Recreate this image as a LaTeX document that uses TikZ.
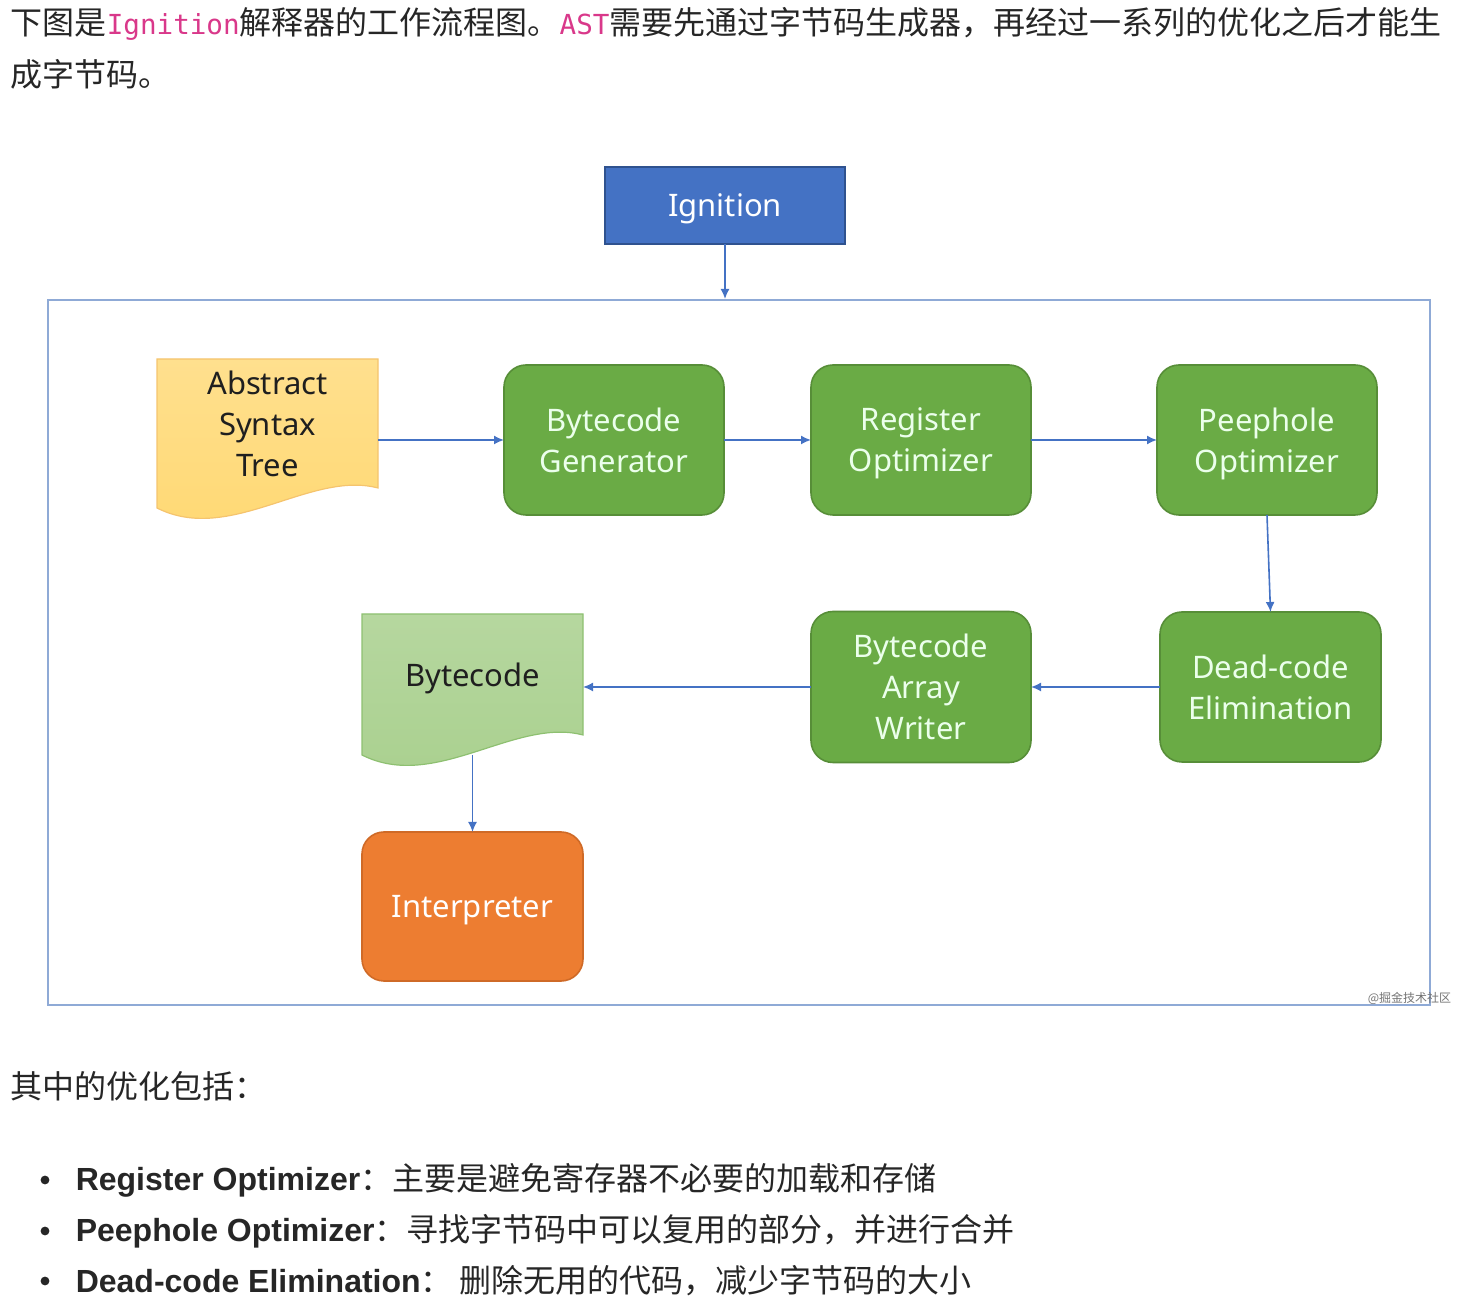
\documentclass[tikz,border=0pt]{standalone}
\usepackage{fontspec}
\setmainfont{Noto Sans}
\newfontfamily\cjk{Noto Sans CJK SC}
\newfontfamily\codefont{DejaVu Sans Mono}
\newfontfamily\termfont{Liberation Sans}
\usepackage{xcolor}
\definecolor{ignblue}{HTML}{4472C4}
\definecolor{ignedge}{HTML}{2F528F}
\definecolor{stagegreen}{HTML}{6AAB45}
\definecolor{stageedge}{HTML}{578E38}
\definecolor{docyellow}{HTML}{FFD872}
\definecolor{docedge}{HTML}{F5C46E}
\definecolor{docgreen}{HTML}{A9D08E}
\definecolor{docgreenedge}{HTML}{8EC071}
\definecolor{runorange}{HTML}{ED7D31}
\definecolor{runedge}{HTML}{CF6A27}
\definecolor{framegray}{HTML}{8FAAD6}
\definecolor{codepink}{HTML}{D9388A}
\usetikzlibrary{arrows.meta,positioning,backgrounds}
\newcommand{\inlinecode}[1]{{\codefont\fontsize{13.8}{16}\selectfont\textcolor{codepink}{#1}}}
\newcommand{\term}[1]{{\termfont\fontsize{16}{20}\selectfont\bfseries #1}}

\begin{document}
\begin{tikzpicture}[x=0.5pt,y=-0.5pt,>={Latex[length=5pt,width=4.5pt]},semithick,line width=0.8pt]
  \tikzstyle{para}=[anchor=west,inner sep=0pt,font=\fontsize{16}{20}\selectfont\cjk,text=black!85]
  \tikzstyle{item}=[anchor=west,inner sep=0pt,font=\fontsize{16}{20}\selectfont,text=black!85]
  \tikzstyle{label}=[align=center,text depth=0pt,font=\fontsize{15.5}{20.5}\selectfont]
  \tikzstyle{stage}=[label,rectangle,rounded corners=11pt,outer sep=0pt,fill=stagegreen,draw=stageedge,text=white!92!green,minimum width=110pt,minimum height=75pt]
  \tikzstyle{doc}=[label,rectangle,outer sep=0pt,text=black!88,minimum width=110.5pt]
  \tikzstyle{flow}=[->,draw=ignblue,line width=0.8pt]

  \useasboundingbox (0,0) rectangle (1464,1304);

  % text above the figure
  \node[para] (intro) at (10,24) {下图是\inlinecode{Ignition}解释器的工作流程图。\inlinecode{AST}需要先通过字节码生成器，再经过一系列的优化之后才能生};
  \node[para] (introend) at (10,74) {成字节码。};

  % figure
  \node[label,rectangle,outer sep=0pt,fill=ignblue,draw=ignedge,text=white,minimum width=120pt,minimum height=38.5pt] (ign) at (725,205.5) {Ignition};
  \node[rectangle,draw=framegray,line width=1pt,minimum width=691pt,minimum height=352.5pt] (frame) at (739,652.5) {};

  \node[stage] (bg) at (614,440) {Bytecode\\Generator};
  \node[doc,minimum height=64.5pt] (ast) [left=63pt of bg,yshift=8.25pt] {Abstract\\Syntax\\Tree};
  \node[stage] (ro) [right=43.5pt of bg] {Register\\Optimizer};
  \node[stage] (po) [right=63pt of ro] {Peephole\\Optimizer};
  \node[stage,minimum width=110.5pt] (de) [below=48.5pt of po,xshift=1.75pt] {Dead-code\\Elimination};
  \node[stage,minimum height=75.5pt] (baw) [left=64.5pt of de] {Bytecode\\Array\\Writer};
  \node[doc,minimum height=60.5pt] (bc) [left=114pt of baw,yshift=6.25pt] {Bytecode};
  \node[stage,fill=runorange,draw=runedge,text=white,minimum width=110.5pt,minimum height=74.5pt] (interp) [below=48.5pt of bc] {Interpreter};

  \begin{scope}[on background layer]
    \path[draw=docedge,top color=docyellow!80!white,bottom color=docyellow,line width=0.6pt]
      (ast.north west) -- (ast.north east) -- (ast.south east)
      .. controls +(-68,-18) and +(73,37) .. ([yshift=-10pt]ast.south west) -- cycle;
    \path[draw=docgreenedge,top color=docgreen!85!white,bottom color=docgreen,line width=0.6pt]
      (bc.north west) -- (bc.north east) -- (bc.south east)
      .. controls +(-68,-18) and +(73,37) .. ([yshift=-10pt]bc.south west) -- cycle;
  \end{scope}

  \path (ign.south) edge[flow] (ign.south |- frame.north)
        (ast.east |- bg.west) edge[flow] (bg.west)
        (bg.east) edge[flow] (ro.west)
        (ro.east) edge[flow] (po.west)
        (po.south) edge[flow] (de.north)
        (de.west) edge[flow] (baw.east)
        (baw.west) edge[flow] (baw.west -| bc.east)
        ([yshift=-10pt]bc.south) edge[flow] (interp.north);

  \node[anchor=east,inner sep=0pt,font=\fontsize{6}{7}\selectfont\cjk,text=black!55] (mark) at (1452,998) {@掘金技术社区};

  % text below the figure
  \node[para] (lead) at (10,1086) {其中的优化包括：};
  \foreach \y in {1180,1231,1281}
    \fill[black!85] (45,\y) circle (2.2pt);
  \node[item] (itemro) at (75,1180) {\term{Register Optimizer}{\cjk ：主要是避免寄存器不必要的加载和存储}};
  \node[item] (itempo) at (75,1231) {\term{Peephole Optimizer}{\cjk ：寻找字节码中可以复用的部分，并进行合并}};
  \node[item] (itemde) at (75,1281) {\term{Dead-code Elimination}{\cjk ：\ 删除无用的代码，减少字节码的大小}};
\end{tikzpicture}
\end{document}
